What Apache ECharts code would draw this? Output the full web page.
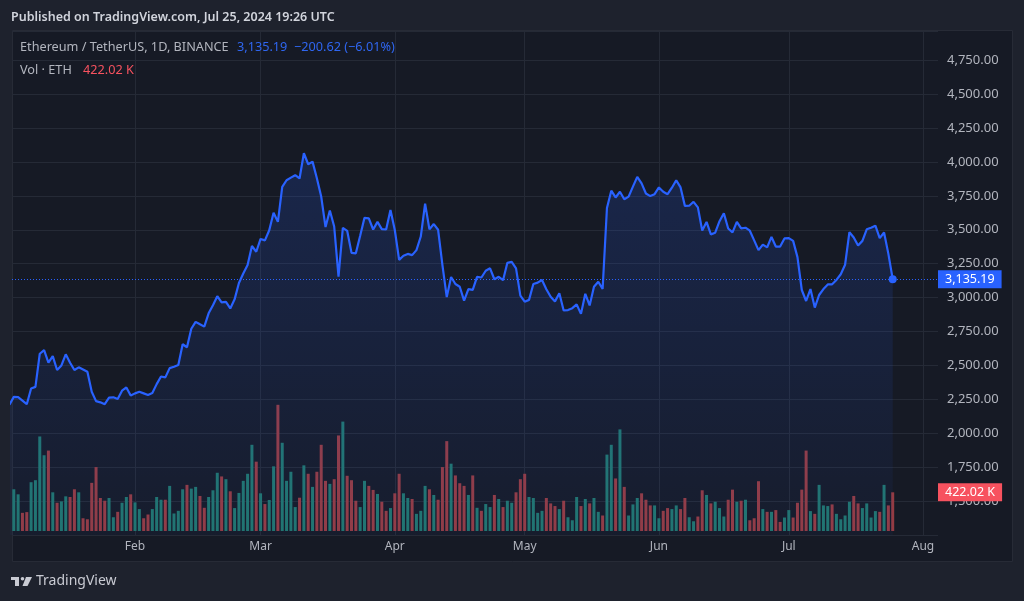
<!DOCTYPE html>
<html><head><meta charset="utf-8">
<script src="https://cdn.jsdelivr.net/npm/echarts@6/dist/echarts.min.js"></script>
<style>html,body{margin:0;padding:0;background:#1e222d;}#c{width:1024px;height:601px;}</style>
</head><body><div id="c"></div>
<script>
// ---------- DATA ----------
const priceStart = '2024-01-03';
const closeJan = [2210,2268,2266,2240,2214,2330,2342,2586,2612,2520,2568,2466,2500,2582,2520,2466,2486,2470,2453,2306,2237,2228,2214,2262,2265,2252,2314,2338,2278];
const closeFeb = [2294,2306,2294,2282,2296,2362,2418,2412,2480,2490,2503,2656,2634,2770,2821,2803,2786,2884,2944,3010,2965,2968,2920,2987,3108,3178,3240,3380,3338];
const closeMar = [3432,3422,3496,3625,3558,3816,3865,3884,3902,3878,4064,3983,4002,3880,3745,3520,3642,3524,3155,3514,3492,3330,3326,3455,3588,3584,3502,3558,3505,3502,3645];
const closeApr = [3498,3278,3308,3322,3313,3350,3450,3693,3503,3542,3500,3240,3004,3152,3100,3080,2978,3062,3057,3152,3148,3198,3216,3135,3153,3128,3256,3263,3215,3014];
const closeMay = [2970,2983,3100,3110,3130,3062,3006,2972,3032,2905,2908,2922,2950,2880,3028,2942,3080,3117,3064,3660,3788,3738,3780,3725,3744,3818,3890,3842,3767,3748,3762];
const closeJun = [3812,3780,3762,3810,3865,3812,3676,3677,3706,3665,3495,3558,3466,3478,3563,3622,3509,3481,3558,3510,3515,3493,3422,3350,3390,3370,3447,3376,3376,3436];
const closeJul = [3438,3418,3298,3056,2975,3063,2926,3019,3063,3097,3098,3130,3172,3242,3482,3443,3384,3418,3503,3515,3530,3438,3480,3322,3135.19];

const volumeStart = '2024-01-04';
// volume in thousands of ETH
const volJan = [455,400,198,206,532,554,1031,826,877,422,308,323,378,371,455,422,139,128,525,697,360,330,360,150,209,308,371,400];
const volFeb = [312,239,139,180,239,371,341,341,492,191,220,455,503,462,481,382,253,371,444,635,595,565,433,250,415,547,624,940,756];
const volMar = [411,294,338,705,1376,962,547,646,261,363,716,624,481,646,940,547,514,565,1042,1193,602,554,330,261,547,492,448,404,319,220,250];
const volApr = [411,624,411,360,349,187,220,492,455,393,341,697,980,734,606,521,492,393,606,253,220,294,261,393,349,261,330,308,422,565];
const volMay = [624,371,360,198,220,360,301,272,239,330,150,117,371,272,349,301,360,209,169,833,940,573,1108,481,169,290,360,411,341,279,279];
const volJun = [139,220,250,239,279,239,360,150,106,158,444,393,301,319,250,158,341,451,319,330,341,117,139,543,239,209,209,228,99,147];
const volJul = [228,147,308,451,877,217,187,503,279,272,290,187,128,169,319,382,301,250,301,147,217,209,503,279,422.02];
// t = up (teal), r = down (red)
const dirJan = 'ttrrttttrtrttrrtrrrrrrttrttr';
const dirFeb = 'ttrrtttrttttrttrrtttrtrtttttr';
const dirMar = 'trttrttttrtrtrrrtrrtrrrttrrtrrt';
const dirApr = 'rrttrtttrtrrrtrrrtrtrttrtrttrr';
const dirMay = 'rttttrrrtrtttrtrttrttrtrtttrrrt';
const dirJun = 'trrttrrttrrtrtttrrtrtrrrtrtrrt';
const dirJul = 'trrrrtrtttrttttrrttttrtrr';

const monthTicks = ['2024-02-01','2024-03-01','2024-04-01','2024-05-01','2024-06-01','2024-07-01','2024-08-01'];
const monthNames = ['Jan','Feb','Mar','Apr','May','Jun','Jul','Aug','Sep','Oct','Nov','Dec'];
const lastPrice = 3135.19;
const lastVolumeK = 422.02;
</script>
<script>
const DAY = 864e5;
const ts = (s, i) => Date.parse(s + 'T00:00:00Z') + i * DAY;
const T0 = Date.parse('2024-01-01T00:00:00Z');
const xMin = T0 + 2.587 * DAY, xMax = T0 + 216.46 * DAY;
const monthTs = monthTicks.map(s => Date.parse(s + 'T00:00:00Z'));

const closes = [].concat(closeJan, closeFeb, closeMar, closeApr, closeMay, closeJun, closeJul);
const priceData = closes.map((v, i) => [ts(priceStart, i), v]);
const li = priceData.length - 1;
priceData[li] = { value: priceData[li], symbol: 'circle', symbolSize: 8, itemStyle: { color: '#2962ff', borderWidth: 0 } };

const vols = [].concat(volJan, volFeb, volMar, volApr, volMay, volJun, volJul);
const dirs = (dirJan + dirFeb + dirMar + dirApr + dirMay + dirJun + dirJul).split('');
const UP = '#21756d', DOWN = '#953b41';
const volData = vols.map((v, i) => ({ value: [ts(volumeStart, i), v], itemStyle: { color: dirs[i] === 'r' ? DOWN : UP } }));

const fmt = v => v.toLocaleString('en-US', { minimumFractionDigits: 2, maximumFractionDigits: 2 });
const FONT = 'Noto Sans';
const GRID_C = '#252a36';

const chart = echarts.init(document.getElementById('c'), null, { renderer: 'canvas' });
chart.setOption({
  animation: false,
  backgroundColor: '#1e222d',
  textStyle: { fontFamily: FONT },
  grid: [
    { left: 12, top: 31, width: 926, height: 504 },
    { left: 12, top: 31, width: 926, height: 500 }
  ],
  xAxis: [
    { type: 'value', gridIndex: 0, min: xMin, max: xMax,
      axisLine: { show: false },
      axisTick: { show: false, customValues: monthTs },
      axisLabel: { customValues: monthTs,
        formatter: v => monthNames[new Date(v).getUTCMonth()],
        color: '#b2b5be', fontSize: 12, fontFamily: FONT, margin: 6 },
      splitLine: { show: true, lineStyle: { color: GRID_C, width: 1 } } },
    { type: 'value', gridIndex: 1, min: xMin, max: xMax, show: false, splitLine: { show: false } }
  ],
  yAxis: [
    { type: 'value', gridIndex: 0, position: 'right', min: 1250, max: 4965, interval: 250,
      axisLine: { show: false }, axisTick: { show: false },
      axisLabel: { color: '#b2b5be', fontSize: 13, fontFamily: FONT, margin: 9,
        formatter: v => (v >= 1500 && v <= 4750 && v % 250 === 0) ? fmt(v) : '' },
      splitLine: { lineStyle: { color: GRID_C, width: 1 } } },
    { type: 'value', gridIndex: 1, min: 0, max: 5452, show: false, splitLine: { show: false } }
  ],
  series: [
    { type: 'bar', name: 'Vol', xAxisIndex: 1, yAxisIndex: 1, data: volData, barWidth: 3, z: 2,
      markLine: { silent: true, symbol: 'none', animation: false,
        lineStyle: { color: 'rgba(0,0,0,0)', width: 0 },
        label: { show: true, position: 'end', distance: 0, formatter: p => p.value.toFixed(2) + ' K',
          backgroundColor: '#f7525f', color: '#ffffff', fontSize: 12.5, fontFamily: FONT, padding: [3, 7, 2, 7] },
        data: [{ yAxis: lastVolumeK }] } },
    { type: 'line', name: 'ETHUSDT', xAxisIndex: 0, yAxisIndex: 0, data: priceData, z: 3,
      symbol: 'none', showSymbol: true, lineStyle: { color: '#2962ff', width: 2.2 },
      itemStyle: { color: '#2962ff' },
      areaStyle: { color: new echarts.graphic.LinearGradient(0, 0, 0, 1, [
        { offset: 0, color: 'rgba(41,98,255,0.25)' }, { offset: 1, color: 'rgba(41,98,255,0.05)' }]) },
      markLine: { silent: true, symbol: 'none', animation: false,
        lineStyle: { type: [1, 2], color: '#2962ff', width: 1 },
        label: { show: true, position: 'end', distance: 0, formatter: p => fmt(p.value),
          backgroundColor: '#2962ff', color: '#ffffff', fontSize: 12.5, fontFamily: FONT, padding: [3, 7, 2, 7] },
        data: [{ yAxis: lastPrice }] } }
  ],
  graphic: [
    { type: 'rect', z: -100, shape: { x: 12.5, y: 30.5, width: 1000, height: 531 },
      style: { fill: '#161a25', stroke: '#272b36', lineWidth: 1 } },
    { type: 'text', left: 11, top: 11, z: 100,
      style: { text: 'Published on TradingView.com, Jul 25, 2024 19:26 UTC', fill: '#d1d4dc', font: '600 12.5px "Noto Sans"' } },
    { type: 'text', left: 20, top: 41, z: 100,
      style: { text: 'Ethereum / TetherUS, 1D, BINANCE', fill: '#b2b5be', font: '12.7px "Noto Sans"' } },
    { type: 'text', left: 237, top: 41, z: 100,
      style: { text: fmt(lastPrice), fill: '#2f66f0', font: '12.7px "Noto Sans"' } },
    { type: 'text', left: 294, top: 41, z: 100,
      style: { text: '\u2212200.62 (\u22126.01%)', fill: '#2f66f0', font: '12.7px "Noto Sans"' } },
    { type: 'text', left: 20, top: 64, z: 100,
      style: { text: 'Vol \u00b7 ETH', fill: '#b2b5be', font: '12.7px "Noto Sans"' } },
    { type: 'text', left: 83, top: 64, z: 100,
      style: { text: lastVolumeK.toFixed(2) + ' K', fill: '#f7525f', font: '12.7px "Noto Sans"' } },
    { type: 'group', left: 11, top: 577, z: 100, children: [
      { type: 'rect', shape: { x: 0, y: 0, width: 8, height: 3 }, style: { fill: '#c9cbd3' } },
      { type: 'rect', shape: { x: 4, y: 0, width: 4, height: 9 }, style: { fill: '#c9cbd3' } },
      { type: 'circle', shape: { cx: 11.5, cy: 1.8, r: 1.8 }, style: { fill: '#c9cbd3' } },
      { type: 'polygon', shape: { points: [[15, 0], [21, 0], [16.5, 9], [11.5, 9]] }, style: { fill: '#c9cbd3' } }
    ] },
    { type: 'text', left: 36, top: 574, z: 100,
      style: { text: 'TradingView', fill: '#c9cbd3', font: '14px "Noto Sans"' } }
  ]
});
</script>
</body></html>
